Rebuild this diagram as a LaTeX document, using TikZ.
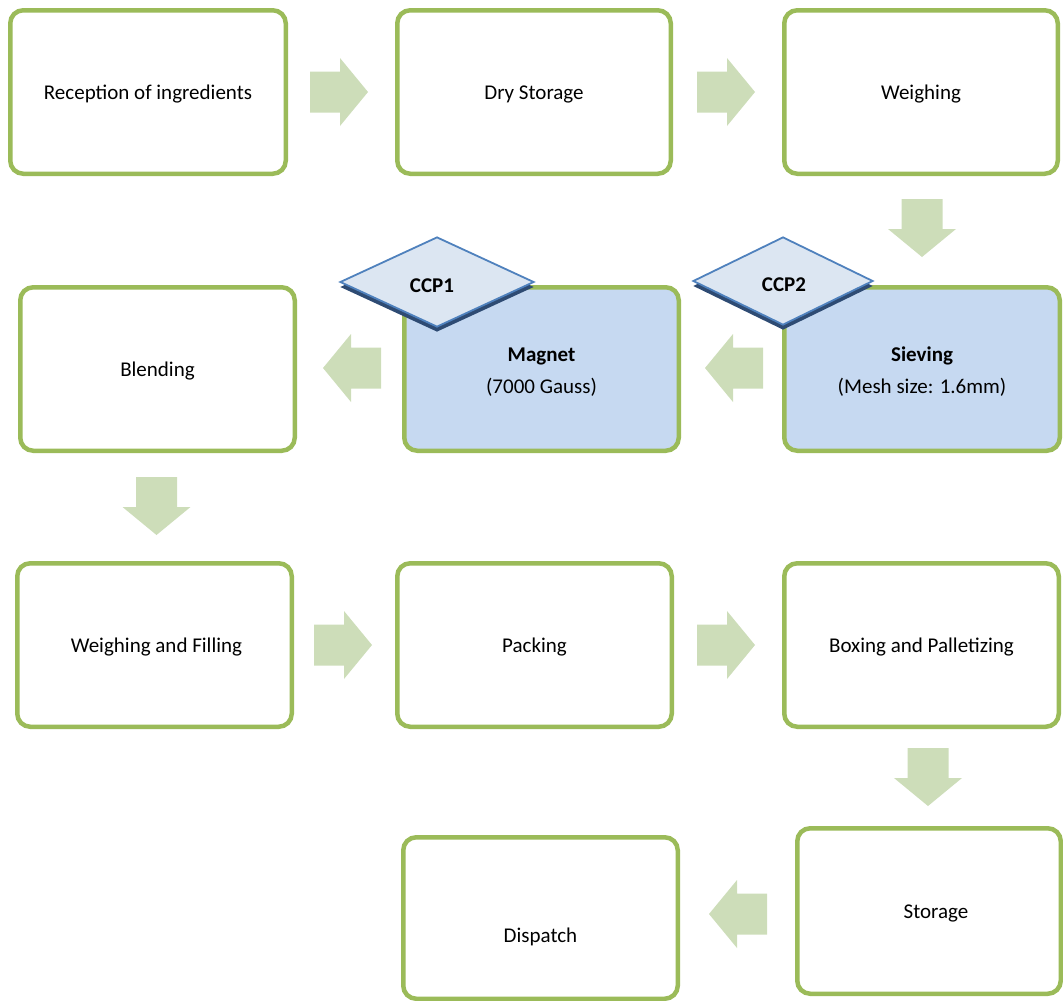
\documentclass[tikz,border=0pt]{standalone}
\usepackage{fontspec}
\setmainfont{Carlito}
\usetikzlibrary{shapes.geometric,shadows}
\definecolor{boxgreen}{HTML}{9BBB59}
\definecolor{arrowgreen}{RGB}{205,221,185}
\definecolor{boxblue}{HTML}{C6D9F1}
\definecolor{diafill}{HTML}{DCE6F2}
\definecolor{diaedge}{HTML}{4F81BD}
\definecolor{diashadow}{HTML}{2E4B73}
\tikzset{
  stepbox/.style={draw=boxgreen, line width=4.5pt, rounded corners=13pt, fill=white,
    minimum width=274.5pt, minimum height=163.5pt, inner sep=0pt, align=center,
    font=\fontsize{21}{32}\selectfont},
  oneline/.style={text height=19.5pt, text depth=4.5pt},
  ccpbox/.style={stepbox, fill=boxblue},
  ccpdia/.style={diamond, draw=diaedge, line width=1.8pt, fill=diafill, inner sep=0pt,
    text height=21.5pt, text depth=0pt,
    font=\fontsize{21}{25}\selectfont\bfseries,
    drop shadow={shadow xshift=0pt, shadow yshift=-5pt, opacity=1, fill=diashadow}},
  barrow/.pic={\fill[arrowgreen] (0,-20.5) -- (30,-20.5) -- (30,-34) -- (58,0) -- (30,34) -- (30,20.5) -- (0,20.5) -- cycle;}
}
\begin{document}
\begin{tikzpicture}[x=1pt,y=-1pt]
\useasboundingbox (0,0) rectangle (1063,1001);
% boxes
\node[stepbox, oneline, minimum width=275.5pt] (rec) at (148,92) {Reception of ingredients};
\node[stepbox, oneline, minimum width=273.5pt] (dry) at (534,92) {Dry Storage};
\node[stepbox, oneline, minimum width=273.5pt] (wei) at (921,92) {Weighing};
\node[stepbox, oneline] (ble) at (157.5,369) {Blending};
\node[ccpbox] (mag) at (541.5,369) {\rule{0pt}{19pt}\textbf{Magnet}\\(7000 Gauss)};
\node[ccpbox, minimum width=275.5pt] (sie) at (922,369) {\rule{0pt}{19pt}\textbf{Sieving}\\(Mesh size: 1.6mm)};
\node[stepbox, oneline] (wf) at (154.5,645) {\hspace*{4pt}Weighing and Filling};
\node[stepbox, oneline] (pac) at (534.5,645) {Packing};
\node[stepbox, oneline] (box) at (921.5,645) {Boxing and Palletizing};
\node[stepbox, oneline, minimum width=263.5pt, minimum height=165.5pt] (sto) at (929,911) {\hspace*{14pt}Storage};
\node[stepbox, minimum height=161.5pt, text height=52pt, text depth=4pt] (dis) at (540.5,918) {Dispatch};
% CCP diamonds
\node[ccpdia, minimum width=194pt, minimum height=90pt] (ccp1) at (437,282) {CCP1\hspace*{10pt}};
\node[ccpdia, minimum width=180pt, minimum height=88pt] (ccp2) at (783,281) {CCP2\hspace*{-2pt}};
% block arrows
\pic at (310,92) {barrow};
\pic at (697,92) {barrow};
\pic[rotate=-90] at (922,199) {barrow};
\pic[rotate=180] at (763,368) {barrow};
\pic[rotate=180] at (381,368) {barrow};
\pic[rotate=-90] at (156.5,477) {barrow};
\pic at (314,645) {barrow};
\pic at (697,645) {barrow};
\pic[rotate=-90] at (928,748) {barrow};
\pic[rotate=180] at (767,914) {barrow};
\end{tikzpicture}
\end{document}
